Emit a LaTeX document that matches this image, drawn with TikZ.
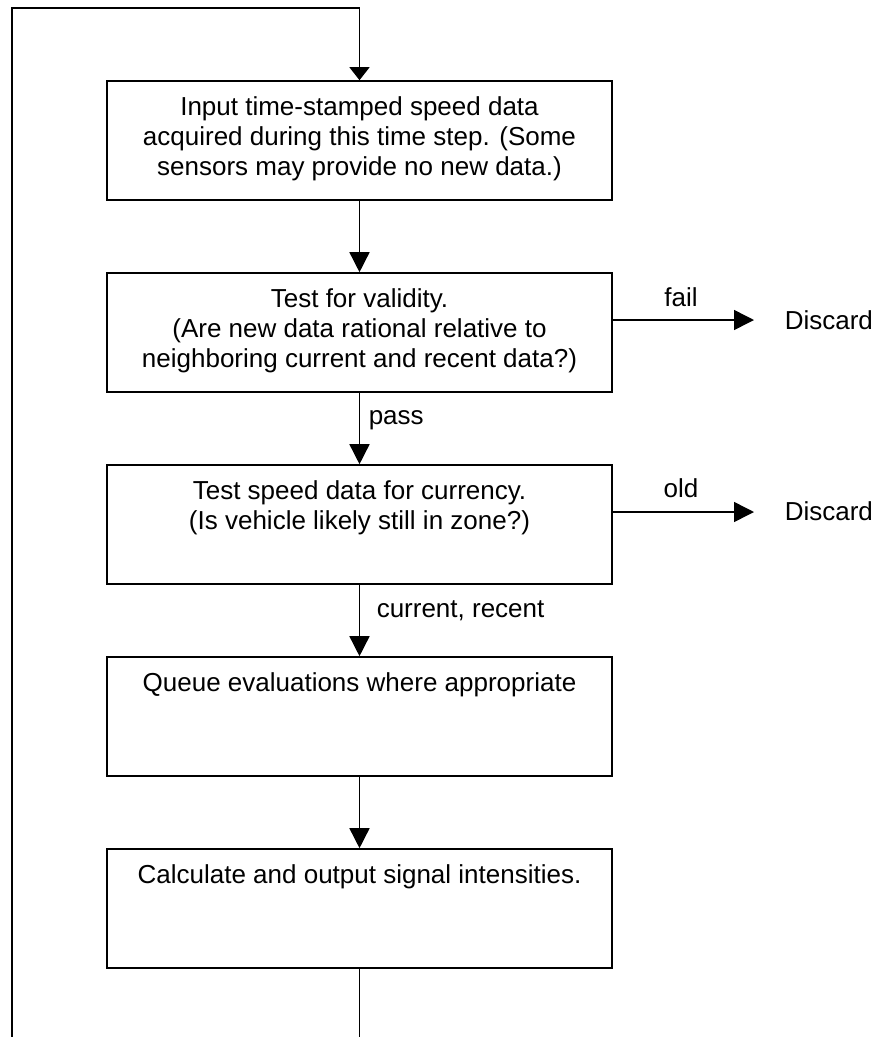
\documentclass[tikz,border=0pt]{standalone}
\usepackage{fontspec}
\setmainfont{Liberation Sans}
\usetikzlibrary{arrows.meta}
\newcommand{\boxtext}[1]{\parbox[c][119pt][t]{495pt}{\centering\fontsize{26}{30}\selectfont\rule{0pt}{34pt}#1\par}}
\begin{document}
\begin{tikzpicture}[x=1pt,y=-1pt,
  line width=1.5pt,
  flowbox/.style={draw, rectangle, line width=1.6pt, minimum width=505pt, minimum height=119pt, inner sep=0pt, anchor=center},
  arr/.style={-{Triangle[length=20pt,width=20pt]}},
  toparr/.style={-{Triangle[length=13pt,width=20pt]}},
  lbl/.style={inner sep=0pt, font=\fontsize{26}{30}\selectfont}
]
\useasboundingbox (0,0) rectangle (875,1037);

\node[flowbox] (b1) at (359.5,140.5) {\boxtext{Input time-stamped speed data\\acquired during this time step. (Some\\sensors may provide no new data.)}};
\node[flowbox] (b2) at (359.5,332.5) {\boxtext{Test for validity.\\(Are new data rational relative to\\neighboring current and recent data?)}};
\node[flowbox] (b3) at (359.5,524.5) {\boxtext{Test speed data for currency.\\(Is vehicle likely still in zone?)}};
\node[flowbox] (b4) at (359.5,716.5) {\boxtext{Queue evaluations where appropriate}};
\node[flowbox] (b5) at (359.5,908.5) {\boxtext{Calculate and output signal intensities.}};

\node[lbl, anchor=base west] (d1) at (784,329) {Discard};
\node[lbl, anchor=base west] (d2) at (784,520) {Discard};
\node[lbl, anchor=base] (lfail) at (681,306) {fail};
\node[lbl, anchor=base] (lold) at (681,497) {old};
\node[lbl, anchor=base west] (lpass) at (368,424) {pass};
\node[lbl, anchor=base west] (lcur) at (376,617) {current, recent};

\coordinate (t1) at (754,320);
\coordinate (t2) at (754,512);
\coordinate (loopbot) at (12,1040);
\coordinate (looptop) at (12,8);
\coordinate (outb) at (359.5,1040);

\draw[toparr] (loopbot) -- (looptop) -| (b1.north);
\draw[arr] (b1.south) -- (b2.north);
\draw[arr] (b2.south) -- (b3.north);
\draw[arr] (b3.south) -- (b4.north);
\draw[arr] (b4.south) -- (b5.north);
\draw (b5.south) -- (outb);
\draw[arr] (b2.east |- t1) -- (t1);
\draw[arr] (b3.east |- t2) -- (t2);
\end{tikzpicture}
\end{document}
